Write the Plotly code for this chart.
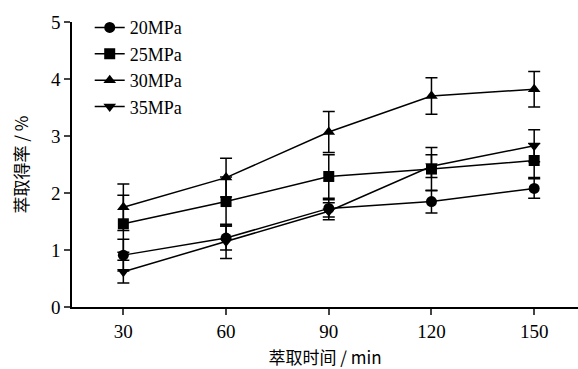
import plotly.graph_objects as go

times = [30, 60, 90, 120, 150]
series_names = ["20MPa", "25MPa", "30MPa", "35MPa"]
y_20 = [0.91, 1.21, 1.73, 1.85, 2.08]
e_20 = [0.28, 0.21, 0.15, 0.20, 0.17]
y_25 = [1.46, 1.85, 2.29, 2.42, 2.57]
e_25 = [0.50, 0.43, 0.38, 0.38, 0.30]
y_30 = [1.75, 2.27, 3.07, 3.70, 3.82]
e_30 = [0.41, 0.34, 0.36, 0.32, 0.31]
y_35 = [0.62, 1.15, 1.68, 2.47, 2.83]
e_35 = [0.20, 0.30, 0.15, 0.20, 0.28]
symbols = ["circle", "square", "triangle-up", "triangle-down"]

fig = go.Figure()
for name, ys, es, sym in zip(series_names, [y_20, y_25, y_30, y_35],
                             [e_20, e_25, e_30, e_35], symbols):
    fig.add_trace(go.Scatter(
        x=times, y=ys, name=name, mode="lines+markers",
        line=dict(color="black", width=1.5),
        marker=dict(symbol=sym, size=11, color="black"),
        error_y=dict(type="data", array=es, visible=True, color="black",
                     thickness=1.5, width=6),
    ))

serif = "Liberation Serif"
cjk = "Noto Sans CJK SC"
tick_font = dict(family=serif, size=19, color="black")
fig.update_layout(
    template="none",
    width=578, height=369,
    margin=dict(l=72, r=0, t=22, b=62),
    paper_bgcolor="white", plot_bgcolor="white",
    font=dict(family=serif, size=18, color="black"),
    showlegend=True,
    legend=dict(x=0.035, y=1.045, xanchor="left", yanchor="top",
                bgcolor="rgba(0,0,0,0)", font=dict(family=serif, size=18),
                tracegroupgap=0, itemwidth=30),
    xaxis=dict(range=[15, 162.8], tickvals=times, ticktext=[str(t) for t in times],
               ticks="outside", ticklen=6,
               tickwidth=1.5, showline=True, linecolor="black", linewidth=1.5,
               showgrid=False, zeroline=False, tickfont=tick_font,
               title=dict(text="萃取时间 / min", font=dict(family=cjk, size=17, color="black"),
                          standoff=14)),
    yaxis=dict(range=[0, 5], tickvals=[0, 1, 2, 3, 4, 5],
               ticktext=[str(v) for v in [0, 1, 2, 3, 4, 5]],
               ticks="outside", ticklen=6, tickwidth=1.5, showline=True,
               linecolor="black", linewidth=1.5, showgrid=False, zeroline=False,
               tickfont=tick_font,
               title=dict(text="萃取得率 / %", font=dict(family=cjk, size=17, color="black"),
                          standoff=18)),
)
fig.write_html("out.html")
